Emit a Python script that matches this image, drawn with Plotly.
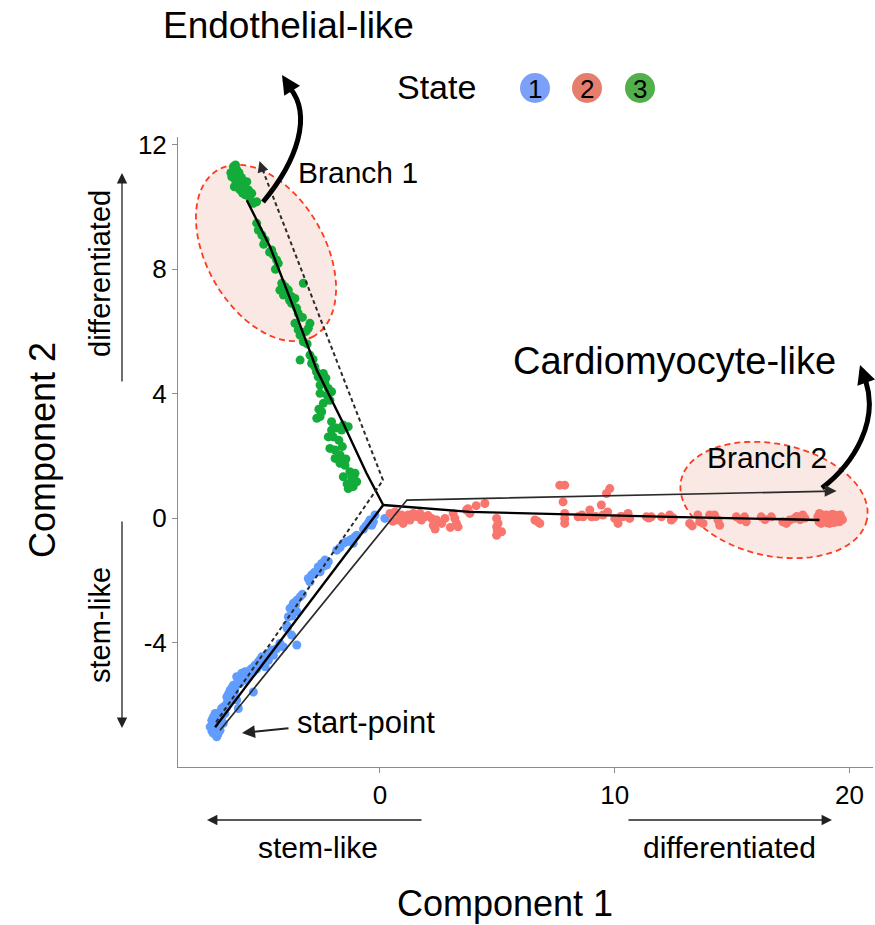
import numpy as np
import plotly.graph_objects as go

# ---------------- data (Component 1 / Component 2) ----------------
state1_x = [-7.16, -7.23, -7.09, -6.95, -6.81, -6.67, -6.88, -7.02, -6.60, -6.74, -6.52, -6.38,
            -6.03, -6.31, -6.17, -5.96, -6.38, -6.10, -5.89, -5.74, -5.60, -5.46, -5.32, -5.39,
            -5.18, -5.03, -4.89, -4.75, -4.61, -4.54, -4.26, -4.11, -3.54, -3.76, -3.97, -3.90,
            -3.83, -3.69, -3.54, -3.40, -3.54, -3.05, -2.91, -2.98, -2.63, -2.48, -2.34, -2.55,
            -2.27, -1.84, -1.56, -1.42, -1.28, -1.06, -0.99, -1.14, -0.50, -0.43, -0.21, -0.35,
            -5.96, -5.74, -6.24, -6.52, -6.67, -6.10, -0.28, 0.21, -7.10, -6.98, -7.05, -6.90,
            -7.15, -7.00, -6.85, -7.10, -6.95, -6.75, -7.05, -6.85, -6.70, -6.55, -6.45, -6.30,
            -6.20, -6.05, -5.85, -5.70, -5.55, -5.40, -5.25, -5.10, -4.95, -4.80, -4.40, -3.95,
            -3.75, -3.60, -3.30, -2.80, -2.40, -2.20, -1.70, -1.20, -0.60, -0.70]
state1_y = [-6.50, -6.71, -6.92, -7.03, -6.82, -6.60, -6.39, -6.28, -6.28, -6.12, -5.96, -5.85,
            -6.12, -5.64, -5.48, -5.32, -5.53, -5.10, -4.99, -5.21, -5.10, -4.83, -4.73, -5.59,
            -4.62, -4.46, -4.78, -4.57, -4.24, -4.41, -4.03, -4.14, -4.08, -3.76, -3.44, -3.17,
            -2.90, -2.74, -2.64, -2.53, -3.01, -1.94, -1.83, -2.05, -1.57, -1.46, -1.35, -1.73,
            -1.51, -1.03, -0.81, -0.76, -0.71, -0.60, -0.55, -0.81, -0.17, -0.06, 0.10, -0.23,
            -5.10, -4.94, -5.37, -5.75, -6.07, -5.85, -0.12, -0.01, -6.60, -6.85, -6.45, -6.95,
            -6.85, -6.95, -6.70, -6.40, -6.55, -6.45, -6.65, -6.25, -6.20, -6.10, -5.65, -5.45,
            -5.60, -5.25, -5.15, -5.00, -4.90, -4.95, -4.85, -4.55, -4.50, -4.35, -4.20, -3.55,
            -3.15, -2.80, -2.45, -1.75, -1.55, -1.40, -0.95, -0.68, -0.25, -0.35]

state2_x = [0.43, 0.64, 0.78, 0.99, 0.92, 1.20, 1.28, 1.42, 1.70, 1.77, 1.91, 2.20, 2.27, 2.41,
            2.63, 2.77, 3.12, 3.19, 3.26, 3.33, 3.69, 3.83, 4.47, 4.97, 5.03, 4.97, 5.18, 4.97,
            6.60, 6.81, 7.66, 7.87, 7.80, 7.87, 7.87, 7.87, 8.44, 8.65, 8.94, 9.01, 9.43, 9.50,
            9.65, 9.79, 10.00, 10.14, 10.35, 10.57, 10.64, 11.35, 11.56, 11.99, 12.34, 12.41,
            13.19, 13.54, 13.62, 13.76, 14.04, 14.40, 14.47, 15.18, 15.53, 15.60, 16.24, 16.67,
            17.16, 17.31, 17.45, 17.66, 18.01, 18.72, 18.86, 19.01, 19.22, 19.36, 19.57, 18.79,
            19.15, 19.43, 19.65, 19.00, 19.30, 18.90, 19.50,
            18.65, 18.80, 18.95, 19.10, 19.25, 19.40, 19.55, 19.70, 18.70, 19.05, 19.35, 19.60,
            0.55, 1.05, 1.55, 2.05, 2.35, 3.00, 3.75, 4.10, 5.00, 6.70, 8.60, 9.20, 9.70, 10.25,
            11.45, 12.50, 13.30, 14.25, 15.35, 16.40, 17.75, 18.10, 17.90]
state2_y = [0.15, 0.20, -0.06, -0.17, 0.10, 0.10, -0.06, 0.15, 0.15, -0.06, 0.04, -0.01, -0.23,
            -0.06, -0.17, -0.01, 0.15, -0.01, -0.17, -0.28, 0.26, 0.15, 0.47, -0.01, -0.17, -0.28,
            -0.44, -0.55, -0.06, -0.17, 1.06, 1.06, 0.52, 0.15, -0.01, -0.17, 0.04, 0.04, 0.26,
            0.04, 0.42, 0.10, 0.79, 0.95, -0.01, -0.17, 0.04, 0.15, -0.01, 0.04, 0.04, 0.04, 0.10,
            -0.06, -0.17, 0.10, -0.12, -0.17, 0.10, -0.06, -0.23, 0.04, 0.04, -0.12, 0.04, 0.04,
            -0.12, -0.17, -0.06, -0.01, 0.10, 0.15, -0.06, 0.10, -0.06, 0.04, -0.12, -0.17, -0.17,
            -0.06, -0.01, 0.00, 0.12, 0.05, 0.08,
            0.05, 0.10, -0.10, 0.05, 0.12, 0.02, 0.00, -0.05, -0.12, -0.15, -0.14, 0.10,
            -0.10, 0.05, 0.05, 0.08, -0.35, -0.30, 0.30, 0.40, -0.40, -0.10, 0.10, 0.05, 0.20, 0.05,
            0.00, 0.00, -0.25, 0.10, -0.05, -0.05, 0.05, 0.00, -0.05]

state3_x = [-6.24, -6.17, -6.31, -6.03, -5.89, -6.10, -5.82, -5.67, -5.96, -5.60, -5.46, -5.74,
            -5.25, -5.39, -5.25, -5.18, -5.03, -4.89, -4.61, -4.54, -4.33, -4.40, -4.18, -4.04,
            -3.90, -4.26, -4.11, -3.76, -3.62, -3.76, -3.26, -3.48, -3.62, -3.48, -3.40, -2.98,
            -3.05, -3.26, -3.40, -2.98, -2.91, -2.77, -2.63, -2.41, -2.55, -2.34, -2.20, -2.06,
            -2.55, -2.41, -2.13, -2.48, -2.69, -2.55, -2.06, -1.56, -1.35, -1.63, -2.06, -2.20,
            -1.99, -2.13, -1.91, -1.70, -1.91, -1.70, -1.49, -1.56, -1.28, -1.06, -1.28, -1.14,
            -0.99, -1.35, -6.20, -6.05, -5.95, -6.15, -5.80, -6.25,
            -6.10, -6.00, -5.90, -6.20, -6.00, -5.75, -5.55, -5.85, -6.35, -6.15,
            -4.95, -4.70, -4.45, -4.00, -3.85, -3.55, -3.30, -3.15, -3.10, -2.85, -2.70, -2.30,
            -2.25, -2.60, -1.85, -1.75, -1.60, -1.45, -1.20, -1.10, -1.40]
state3_y = [11.30, 11.13, 10.97, 11.03, 10.87, 10.76, 10.71, 10.81, 10.55, 10.55, 10.44, 10.39,
            10.17, 10.12, 9.48, 9.26, 9.10, 8.94, 8.62, 8.46, 8.19, 8.30, 7.55, 7.44, 7.33, 7.33,
            7.17, 7.12, 7.06, 6.90, 7.55, 6.58, 6.26, 6.05, 5.88, 6.26, 6.10, 5.67, 5.08, 5.24,
            4.97, 4.86, 4.54, 4.65, 4.28, 4.33, 4.17, 4.06, 4.01, 3.69, 3.79, 3.42, 3.21, 3.26,
            3.10, 2.99, 2.94, 2.83, 2.83, 2.61, 2.61, 2.24, 2.19, 2.03, 1.92, 1.76, 1.70, 1.33,
            1.49, 1.44, 1.12, 1.01, 1.17, 0.95, 11.20, 10.95, 10.70, 10.85, 10.60, 11.05,
            11.20, 11.10, 10.95, 10.65, 10.60, 10.50, 10.30, 10.45, 11.10, 11.35,
            8.80, 8.55, 8.00, 7.25, 7.00, 6.75, 6.45, 6.00, 5.60, 5.10, 4.70, 4.50,
            3.95, 3.50, 2.90, 2.50, 2.30, 1.90, 1.30, 1.25, 1.10]

# principal graph (trajectory tree)
traj_up_x = [-5.67, -4.68, -3.69, -2.69, -1.56, -0.57, 0.14]
traj_up_y = [10.22, 8.72, 6.79, 4.76, 3.04, 1.44, 0.42]
traj_low_x = [0.14, -7.02]
traj_low_y = [0.42, -6.72]
traj_right_x = [0.14, 3.83, 12.34, 17.15, 18.72]
traj_right_y = [0.42, 0.20, 0.04, -0.04, -0.06]

# pseudotime direction arrows
branch1_path_x = [-6.98, 0.13, -5.05]
branch1_path_y = [-6.56, 1.22, 11.30]
branch2_path_x = [-6.81, 1.15, 19.30]
branch2_path_y = [-6.82, 0.58, 0.87]

x_ticks = [0, 10, 20]
y_ticks = [-4, 0, 4, 8, 12]
state_labels = ["1", "2", "3"]
state_colors = ["#619CFF", "#F8766D", "#13AB3A"]
legend_colors = ["#7AA0F8", "#E67E6E", "#52B04A"]

# ---------------- layout geometry ----------------
FW, FH = 875, 925
L, R, T, B = 178, 2, 137, 158
W, H = FW - L - R, FH - T - B
FONT = "Liberation Sans, Arial, Helvetica, sans-serif"


def P(px, py):
    return (px - L) / W, (T + H - py) / H


fig = go.Figure()

for xs, ys, c, name in [(state1_x, state1_y, state_colors[0], "1"),
                        (state2_x, state2_y, state_colors[1], "2"),
                        (state3_x, state3_y, state_colors[2], "3")]:
    fig.add_trace(go.Scatter(x=xs, y=ys, mode="markers", name=name,
                             marker=dict(size=9, color=c, line=dict(width=0)),
                             showlegend=False, hoverinfo="skip"))

for xs, ys in [(traj_up_x, traj_up_y), (traj_low_x, traj_low_y), (traj_right_x, traj_right_y)]:
    fig.add_trace(go.Scatter(x=xs, y=ys, mode="lines", line=dict(color="black", width=2.4),
                             showlegend=False, hoverinfo="skip"))

fig.add_trace(go.Scatter(x=branch1_path_x, y=branch1_path_y, mode="lines",
                         line=dict(color="#2a2a2a", width=2, dash="4px,3px"),
                         showlegend=False, hoverinfo="skip"))
fig.add_trace(go.Scatter(x=branch2_path_x, y=branch2_path_y, mode="lines",
                         line=dict(color="#2a2a2a", width=1.7),
                         showlegend=False, hoverinfo="skip"))

shapes = []


def ellipse(cx, cy, a, b, theta_deg):
    th = np.deg2rad(theta_deg)
    t = np.linspace(0, 2 * np.pi, 73)
    px = cx + a * np.cos(t) * np.cos(th) - b * np.sin(t) * np.sin(th)
    py = cy + a * np.cos(t) * np.sin(th) + b * np.sin(t) * np.cos(th)
    pts = [P(u, v) for u, v in zip(px, py)]
    d = "M " + " L ".join(f"{u:.5f},{v:.5f}" for u, v in pts) + " Z"
    return dict(type="path", path=d, xref="paper", yref="paper", layer="below",
                fillcolor="rgba(230,150,130,0.22)",
                line=dict(color="#FF3B1F", width=1.8, dash="6px,4px"))


shapes.append(ellipse(266, 253, 96, 59, 60))
shapes.append(ellipse(774, 500, 95, 56, 12))


def bez(p0, p1, p2, p3):
    pts = [P(*p) for p in (p0, p1, p2, p3)]
    d = "M {:.5f},{:.5f} C {:.5f},{:.5f} {:.5f},{:.5f} {:.5f},{:.5f}".format(
        *pts[0], *pts[1], *pts[2], *pts[3])
    return dict(type="path", path=d, xref="paper", yref="paper", layer="above",
                line=dict(color="black", width=5))


shapes.append(bez((263, 202), (298, 160), (312, 115), (290, 88)))
shapes.append(bez((822, 488), (856, 462), (878, 420), (866, 382)))

# legend circles
for i, cx in enumerate([535, 587, 640]):
    x0, y0 = P(cx - 15, 88 + 15)
    x1, y1 = P(cx + 15, 88 - 15)
    shapes.append(dict(type="circle", xref="paper", yref="paper", x0=x0, x1=x1, y0=y0, y1=y1,
                       fillcolor=legend_colors[i], line=dict(width=0), layer="above"))

ann = []


def text(s, px, py, size, xanchor="center", angle=0):
    x, y = P(px, py)
    ann.append(dict(text=s, x=x, y=y, xref="paper", yref="paper", xanchor=xanchor,
                    yanchor="middle", showarrow=False, textangle=angle,
                    font=dict(family=FONT, size=size, color="black")))


def arrow(hx, hy, tx, ty, width, size, color="#222"):
    x, y = P(hx, hy)
    ann.append(dict(text="", x=x, y=y, xref="paper", yref="paper", ax=tx - hx, ay=ty - hy,
                    axref="pixel", ayref="pixel", showarrow=True, arrowhead=2,
                    arrowwidth=width, arrowsize=size, arrowcolor=color))


text("Endothelial-like", 288, 26, 37)
text("State", 436, 87, 34)
for i, cx in enumerate([535, 587, 640]):
    text(state_labels[i], cx, 89, 26)
text("Branch 1", 296, 172, 30, xanchor="left")
text("Cardiomyocyte-like", 674, 361, 38)
text("Branch 2", 705, 457, 30, xanchor="left")
text("start-point", 295, 722, 31, xanchor="left")
text("stem-like", 318, 847, 30)
text("differentiated", 729, 847, 30)
text("Component 1", 505, 903, 36)
text("Component 2", 42, 450, 36, angle=-90)
text("differentiated", 100, 274, 29, angle=-90)
text("stem-like", 100, 625, 29, angle=-90)

arrow(282, 75, 291, 89, 5, 0.75, "black")
arrow(860, 365, 866, 382, 5, 0.75, "black")
arrow(242, 733, 290, 728, 2, 1.3)
arrow(207, 820, 423, 820, 1.3, 1.6)
arrow(832, 820, 627, 820, 1.3, 1.6)
arrow(122, 173, 122, 383, 1.3, 1.6)
arrow(122, 728, 122, 520, 1.3, 1.6)

# arrowheads at ends of the pseudotime paths (data coords)
ann.append(dict(text="", x=19.45, y=0.875, xref="x", yref="y", ax=-14, ay=0,
                showarrow=True, arrowhead=2, arrowwidth=1.7, arrowsize=1.4, arrowcolor="#2a2a2a"))
ann.append(dict(text="", x=-5.13, y=11.48, xref="x", yref="y", ax=4, ay=12,
                showarrow=True, arrowhead=2, arrowwidth=2, arrowsize=1.1, arrowcolor="#2a2a2a"))

fig.update_layout(
    width=FW, height=FH, margin=dict(l=L, r=R, t=T, b=B, pad=0),
    paper_bgcolor="white", plot_bgcolor="white", showlegend=False,
    shapes=shapes, annotations=ann,
    font=dict(family=FONT, color="black"),
    xaxis=dict(range=[-8.6, 21.0], tickvals=x_ticks, ticktext=[str(v) for v in x_ticks],
               showgrid=False, zeroline=False, showline=True, linecolor="#8c8c8c", linewidth=1,
               ticks="outside", ticklen=5, tickcolor="#8c8c8c",
               tickfont=dict(family=FONT, size=26, color="black")),
    yaxis=dict(range=[-8.0, 12.25], tickvals=y_ticks, ticktext=[str(v) for v in y_ticks],
               showgrid=False, zeroline=False, showline=True, linecolor="#8c8c8c", linewidth=1,
               ticks="outside", ticklen=5, tickcolor="#8c8c8c",
               tickfont=dict(family=FONT, size=26, color="black")),
)

fig.write_html("out.html")
